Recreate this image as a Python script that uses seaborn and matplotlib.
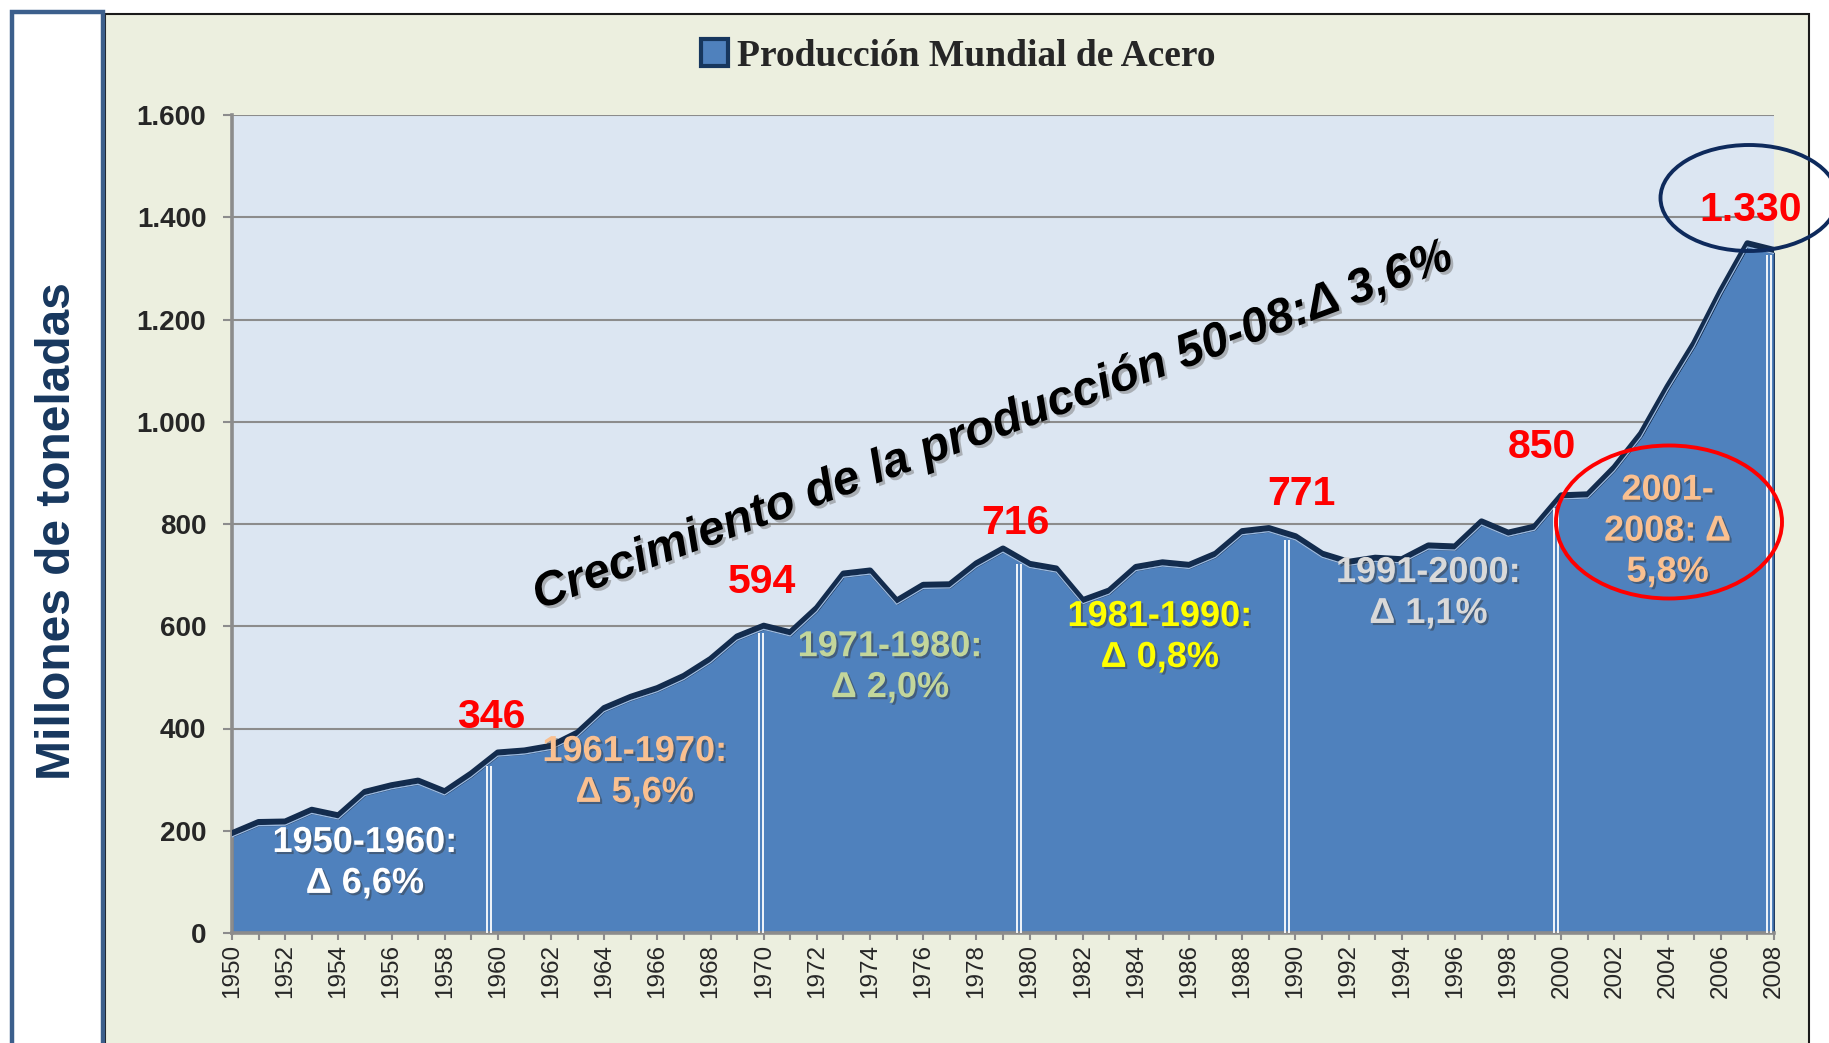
import numpy as np
import pandas as pd
import matplotlib
matplotlib.use("Agg")
import matplotlib.pyplot as plt
import matplotlib.patheffects as pe
from matplotlib.patches import Rectangle, Ellipse, Patch
from matplotlib.ticker import FuncFormatter, MultipleLocator
from matplotlib.transforms import ScaledTranslation
import seaborn as sns

# ── Data ──────────────────────────────────────────────────────────────────────
years = list(range(1950, 2009))
production = [
    189, 211, 212, 235, 224, 270, 283, 292, 271, 306,
    347, 351, 360, 386, 434, 456, 473, 497, 530, 574,
    595, 582, 630, 697, 703, 644, 675, 676, 717, 746,
    716, 707, 645, 664, 710, 719, 714, 736, 780, 786,
    770, 736, 720, 728, 725, 752, 750, 799, 777, 789,
    850, 852, 905, 971, 1063, 1148, 1250, 1343, 1330,
]
series_name = "Producción Mundial de Acero"

milestone_years = [1960, 1970, 1980, 1990, 2000, 2008]
milestone_labels = ["346", "594", "716", "771", "850", "1.330"]

divider_years = [1959.65, 1969.9, 1979.6, 1989.7, 1999.8, 2007.8]

period_labels = [
    "1950-1960:\nΔ 6,6%", "1961-1970:\nΔ 5,6%", "1971-1980:\nΔ 2,0%",
    "1981-1990:\nΔ 0,8%", "1991-2000:\nΔ 1,1%", "2001-\n2008: Δ\n5,8%",
]
period_x = [1955.0, 1965.15, 1974.75, 1984.9, 1995.0, 2004.0]
period_y = [137, 315, 520, 579, 665, 786]
period_colors = ["white", "#FAC090", "#C3D69B", "#FFFF00", "#D9D9D9", "#FAC090"]

growth_text = "Crecimiento de la producción 50-08:Δ 3,6%"
y_label = "Millones de toneladas"

df = pd.DataFrame({"year": years, "prod": production})

# ── Figure ────────────────────────────────────────────────────────────────────
sns.set_style("white")
plt.rcParams["font.family"] = ["Liberation Sans", "DejaVu Sans"]

W, H = 1829, 1043
fig = plt.figure(figsize=(W / 100, H / 100), dpi=100, facecolor="white")


def fx(x):
    return x / W


def fy(y):
    return 1 - y / H


# chart area + left label box
fig.add_artist(Rectangle((fx(105), fy(1060)), (1809 - 105) / W, (1060 - 14) / H,
                         transform=fig.transFigure, facecolor="#ECEFDF",
                         edgecolor="#1a1a1a", lw=1.5, zorder=-2))
fig.add_artist(Rectangle((fx(12), fy(1060)), (103 - 12) / W, (1060 - 12) / H,
                         transform=fig.transFigure, facecolor="white",
                         edgecolor="#3C5F8C", lw=3.2, zorder=-1))
fig.text(fx(58), fy(531), y_label, rotation=90, ha="center", va="center",
         fontsize=34.5, fontweight="bold", color="#17375E")

ax = fig.add_axes([fx(232), fy(933), (1774 - 232) / W, (933 - 115) / H])
ax.set_facecolor("#DCE6F2")
ax.set_axisbelow(True)

fill_color = "#4F81BD"
ax.fill_between(df["year"], df["prod"], 0, color=fill_color,
                edgecolor="#1F3B62", lw=1.2, zorder=2)
up = ax.transData + ScaledTranslation(0, 2.2 / 72, fig.dpi_scale_trans)
sns.lineplot(data=df, x="year", y="prod", ax=ax, color="#132C4E", lw=4.4,
             transform=up, zorder=3, legend=False)
sns.lineplot(data=df, x="year", y="prod", ax=ax, color="#9DBBE0", lw=0.9,
             zorder=3.5, legend=False,
             transform=ax.transData + ScaledTranslation(0, -0.4 / 72, fig.dpi_scale_trans))

# white double dividers at decade boundaries
tops = np.interp(divider_years, years, production)
for dx in (-0.075, 0.075):
    ax.vlines(np.array(divider_years) + dx, 0, tops - 6, color="white", lw=1.3, zorder=4)

ax.set_xlim(1950, 2008)
ax.set_ylim(0, 1600)
ax.yaxis.set_major_locator(MultipleLocator(200))
ax.yaxis.set_major_formatter(FuncFormatter(lambda v, p: f"{int(v):,}".replace(",", ".")))
ax.xaxis.set_major_locator(MultipleLocator(2))
ax.xaxis.set_minor_locator(MultipleLocator(1))
ax.xaxis.set_major_formatter(FuncFormatter(lambda v, p: f"{int(v)}"))
ax.grid(axis="y", color="#8C8C8C", lw=1.5)
ax.grid(axis="x", visible=False)
ax.set_xlabel("")
ax.set_ylabel("")

for s in ["top", "right"]:
    ax.spines[s].set_visible(False)
for s in ["left", "bottom"]:
    ax.spines[s].set_color("#8C8C8C")
    ax.spines[s].set_linewidth(2.6)

ax.tick_params(axis="y", which="major", length=6.5, width=1.5, color="#8C8C8C",
               pad=12, labelsize=20, left=True)
ax.tick_params(axis="x", which="both", length=5, width=1.5, color="#8C8C8C",
               pad=3, labelsize=17.5, bottom=True)
for lab in ax.get_yticklabels():
    lab.set_fontweight("bold")
plt.setp(ax.get_xticklabels(), rotation=90)

# red milestone values
offsets = [(-5, 28), (-1, 34), (-10, 32), (4, 33), (-14, 37), (-17, 31)]
for yr, lab, off in zip(milestone_years, milestone_labels, offsets):
    val = production[years.index(yr)]
    ax.annotate(lab, xy=(yr, val), xytext=off, textcoords="offset points",
                ha="center", va="center", fontsize=29.5, fontweight="bold",
                color="#FF0000", zorder=6, annotation_clip=False)

# period growth labels
shadow = [pe.SimplePatchShadow(offset=(1.5, -1.5), shadow_rgbFace="#333333", alpha=0.45),
          pe.Normal()]
for lab, xx, yy, col in zip(period_labels, period_x, period_y, period_colors):
    ax.text(xx, yy, lab, ha="center", va="center", fontsize=26, fontweight="bold",
            color=col, linespacing=1.22, zorder=6, path_effects=shadow)

ax.text(1978.6, 990, growth_text, rotation=20.5, rotation_mode="anchor",
        ha="center", va="center", fontsize=34.5, fontweight="bold", fontstyle="italic",
        color="black", zorder=6,
        path_effects=[pe.SimplePatchShadow(offset=(2, -2), shadow_rgbFace="#777777", alpha=0.5),
                      pe.Normal()])

# ellipses
fig.add_artist(Ellipse((fx(1749), fy(198)), 177 / W, 106 / H, transform=fig.transFigure,
                       fill=False, edgecolor="#0E2A5C", lw=2.8, zorder=10))
fig.add_artist(Ellipse((fx(1669), fy(522)), 226 / W, 153 / H, transform=fig.transFigure,
                       fill=False, edgecolor="#FF0000", lw=2.8, zorder=10))

# legend (title)
handle = Patch(facecolor=fill_color, edgecolor="#17375E", lw=3, label=series_name)
fig.legend(handles=[handle], loc="center", bbox_to_anchor=(fx(958), fy(56)),
           frameon=False, handlelength=0.72, handleheight=0.7, handletextpad=0.25,
           prop={"family": "Liberation Serif", "weight": "bold", "size": 27})

fig.savefig("out.png", dpi=100, facecolor="white")
plt.close(fig)
